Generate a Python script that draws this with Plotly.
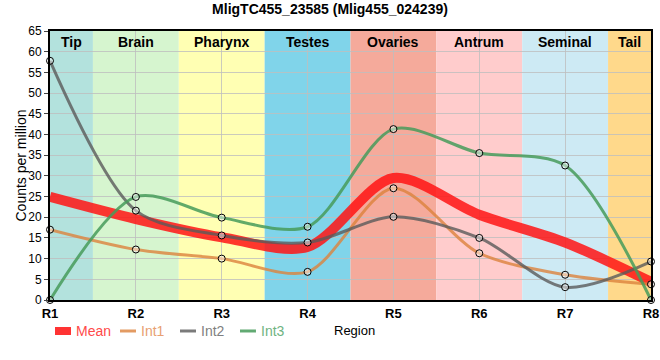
import plotly.graph_objects as go

regions = ["R1", "R2", "R3", "R4", "R5", "R6", "R7", "R8"]
tissues = ["Tip", "Brain", "Pharynx", "Testes", "Ovaries", "Antrum", "Seminal", "Tail"]
tissue_colors = ["#b3e2dd", "#d6f5cf", "#ffffb3", "#80d4ea", "#f5aa9b", "#ffcccc", "#cdeaf4", "#ffd98b"]

int1 = [17.0, 12.2, 10.0, 6.8, 27.0, 11.3, 6.1, 3.8]
int2 = [57.8, 21.6, 15.6, 13.9, 20.1, 15.0, 3.1, 9.3]
int3 = [0.0, 24.9, 19.9, 17.7, 41.3, 35.5, 32.5, 0.0]
mean = [round((a + b + c) / 3, 2) for a, b, c in zip(int1, int2, int3)]

FONT = "Liberation Sans Narrow, Arial Narrow, Liberation Sans, Arial, sans-serif"
SMOOTH = 0.85

xs = list(range(1, len(regions) + 1))
fig = go.Figure()

fig.add_trace(go.Scatter(
    x=xs, y=mean, mode="lines", name="Mean", showlegend=False,
    line=dict(color="rgba(255,20,20,0.85)", width=10, shape="spline", smoothing=SMOOTH),
))
series = [
    ("Int1", int1, "rgba(220,130,60,0.8)", "#e8a072"),
    ("Int2", int2, "rgba(90,90,90,0.8)", "#7f7f7f"),
    ("Int3", int3, "rgba(70,155,90,0.85)", "#6fb382"),
]
for name, vals, col, tcol in series:
    fig.add_trace(go.Scatter(
        x=xs, y=vals, mode="lines", name=name, showlegend=False,
        line=dict(color=col, width=3, shape="spline", smoothing=SMOOTH),
    ))
for name, vals, col, tcol in series:
    fig.add_trace(go.Scatter(
        x=xs, y=vals, mode="markers", name=name, showlegend=False,
        marker=dict(size=7, color="rgba(255,255,255,0.45)", line=dict(color="black", width=1)),
        cliponaxis=False,
    ))

shapes = []
annotations = []
for i, (t, c) in enumerate(zip(tissues, tissue_colors)):
    x0 = max(1, xs[i] - 0.5)
    x1 = min(len(regions), xs[i] + 0.5)
    shapes.append(dict(type="rect", xref="x", yref="paper", x0=x0, x1=x1, y0=0, y1=1,
                       fillcolor=c, line=dict(width=0), layer="below"))
    annotations.append(dict(x=(x0 + x1) / 2, y=0.995, xref="x", yref="paper", text=f"<b>{t}</b>",
                            showarrow=False, yanchor="top", font=dict(size=14, color="black", family=FONT)))

# custom legend (paper coordinates)
LY = -0.1152
shapes.append(dict(type="rect", xref="paper", yref="paper", x0=0.0083, x1=0.0349, y0=-0.1004, y1=-0.1301,
                   fillcolor="#ff3333", line=dict(width=0)))
annotations.append(dict(x=0.0399, y=LY, xref="paper", yref="paper", text="Mean", showarrow=False,
                        xanchor="left", yanchor="middle", font=dict(size=14, color="#ff4a4a", family=FONT)))
leg_x = [0.1165, 0.2163, 0.3161]
for (name, vals, col, tcol), lx in zip(series, leg_x):
    shapes.append(dict(type="line", xref="paper", yref="paper", x0=lx, x1=lx + 0.0266, y0=LY, y1=LY,
                       line=dict(color=col, width=3)))
    annotations.append(dict(x=lx + 0.0316, y=LY, xref="paper", yref="paper", text=name, showarrow=False,
                            xanchor="left", yanchor="middle", font=dict(size=14, color=tcol, family=FONT)))

annotations.append(dict(x=0.4692, y=LY, xref="paper", yref="paper", text="Region", showarrow=False,
                        xanchor="left", yanchor="middle", font=dict(size=13, color="black", family=FONT)))
annotations.append(dict(x=-0.0499, y=0.5, xref="paper", yref="paper", text="Counts per million", showarrow=False,
                        textangle=-90, xanchor="center", yanchor="middle",
                        font=dict(size=14, color="black", family=FONT)))

fig.update_layout(
    width=660, height=360,
    margin=dict(l=50, r=9, t=31, b=60, autoexpand=False),
    paper_bgcolor="white", plot_bgcolor="white",
    title=dict(text="<b>MligTC455_23585 (Mlig455_024239)</b>", x=0.5, xanchor="center", y=0.975, yanchor="middle",
               font=dict(size=14, color="black", family=FONT)),
    font=dict(family=FONT, size=12, color="black"),
    showlegend=False,
    shapes=shapes, annotations=annotations,
    xaxis=dict(range=[1, len(regions)], tickvals=xs, ticktext=[f"<b>{r}</b>" for r in regions],
               showgrid=True, gridcolor="rgba(190,190,190,0.8)", gridwidth=1, automargin=False,
               showline=True, linecolor="black", linewidth=2, mirror=True, ticks="",
               tickfont=dict(size=13, family=FONT), zeroline=False),
    yaxis=dict(range=[0, 65], dtick=5, showgrid=True, gridcolor="rgba(190,190,190,0.8)", gridwidth=1,
               showline=True, linecolor="black", linewidth=2, mirror=True, ticks="outside", ticklen=4,
               tickfont=dict(size=12, family=FONT), zeroline=False, automargin=False),
)

fig.write_html("out.html", config={"displayModeBar": False},
               post_script="document.body.style.margin='0';")
